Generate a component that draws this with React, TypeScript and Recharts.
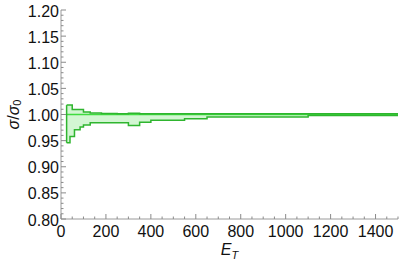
import React from "react";
import {
  ComposedChart,
  Area,
  Line,
  XAxis,
  YAxis,
  ReferenceLine,
} from "recharts";

// Bin edges (E_T) and band limits (σ/σ0)
const E_EDGES = [25, 40, 50, 60, 85, 100, 130, 180, 250, 300, 350, 400, 550, 650, 1100, 1500];
const LOWER = [0.946, 0.958, 0.958, 0.971, 0.976, 0.98, 0.984, 0.984, 0.984, 0.979, 0.985, 0.989, 0.992, 0.995, 0.998, 0.998];
const UPPER = [1.018, 1.018, 1.0096, 1.0096, 1.0096, 1.005, 1.003, 1.002, 1.0013, 1.0025, 1.0013, 1.0013, 1.0013, 1.0013, 1.0013, 1.0013];
const CENTER = 1.0;

const X_MAJOR = [0, 200, 400, 600, 800, 1000, 1200, 1400];
const Y_MAJOR = [0.8, 0.85, 0.9, 0.95, 1.0, 1.05, 1.1, 1.15, 1.2];
const X_DOMAIN = [0, 1500];
const Y_DOMAIN = [0.8, 1.2];
const X_MINOR_STEP = 50;
const Y_MINOR_STEP = 0.01;

const data = E_EDGES.map((e, i) => ({
  E: e,
  band: [LOWER[i], UPPER[i]],
  lower: LOWER[i],
  upper: UPPER[i],
  center: CENTER,
}));

const xTicks: number[] = [];
for (let v = X_DOMAIN[0]; v <= X_DOMAIN[1]; v += X_MINOR_STEP) xTicks.push(v);
const yTicks: number[] = [];
for (let k = 0; k <= Math.round((Y_DOMAIN[1] - Y_DOMAIN[0]) / Y_MINOR_STEP); k++)
  yTicks.push(Math.round((Y_DOMAIN[0] + k * Y_MINOR_STEP) * 100) / 100);

const isMajorX = (v: number) => X_MAJOR.includes(v);
const isMajorY = (v: number) => Y_MAJOR.some((m) => Math.abs(m - v) < 1e-6);

const FONT = "'Liberation Sans', Arial, Helvetica, sans-serif";
const TICK_COLOR = "#8a8a8a";
const FRAME_COLOR = "#9a9a9a";
const EDGE = "#2fb52f";
const FILL = "#d2f6d2";
const MID = "#3fdc3f";

const BottomTick = (p: any) => {
  const { x, y, payload } = p;
  const v = payload.value;
  const major = isMajorX(v);
  return (
    <g>
      <line x1={x} y1={y} x2={x} y2={y - (major ? 5 : 2.5)} stroke={TICK_COLOR} strokeWidth={1} />
      {major && (
        <text x={x} y={y + 18} textAnchor="middle" fontSize={16} fontFamily={FONT} fill="#111">
          {v}
        </text>
      )}
    </g>
  );
};

const TopTick = (p: any) => {
  const { x, y, payload } = p;
  const major = isMajorX(payload.value);
  return <line x1={x} y1={y} x2={x} y2={y + (major ? 5 : 2.5)} stroke={TICK_COLOR} strokeWidth={1} />;
};

const LeftTick = (p: any) => {
  const { x, y, payload } = p;
  const v = payload.value;
  const major = isMajorY(v);
  return (
    <g>
      <line x1={x} y1={y} x2={x + (major ? 5 : 2.5)} y2={y} stroke={TICK_COLOR} strokeWidth={1} />
      {major && (
        <text x={x - 2} y={y + 6.5} textAnchor="end" fontSize={16} fontFamily={FONT} fill="#111">
          {v.toFixed(2)}
        </text>
      )}
    </g>
  );
};

const RightTick = (p: any) => {
  const { x, y, payload } = p;
  const major = isMajorY(payload.value);
  return <line x1={x} y1={y} x2={x - (major ? 5 : 2.5)} y2={y} stroke={TICK_COLOR} strokeWidth={1} />;
};

const YLabel = (p: any) => {
  const vb = p.viewBox || {};
  const cx = (vb.x ?? 0) + 13;
  const cy = (vb.y ?? 0) + (vb.height ?? 0) / 2;
  return (
    <text
      x={cx}
      y={cy}
      transform={`rotate(-90 ${cx} ${cy})`}
      textAnchor="middle"
      dominantBaseline="central"
      fontSize={16}
      fontFamily={FONT}
      fill="#111"
    >
      <tspan fontStyle="italic">σ</tspan>
      <tspan>/</tspan>
      <tspan fontStyle="italic">σ</tspan>
      <tspan fontSize={11} dy={4}>0</tspan>
    </text>
  );
};

const XLabel = (p: any) => {
  const vb = p.viewBox || {};
  const cx = (vb.x ?? 0) + (vb.width ?? 0) / 2;
  const cy = (vb.y ?? 0) + 36;
  return (
    <text x={cx} y={cy} textAnchor="middle" fontSize={16} fontFamily={FONT} fill="#111">
      <tspan fontStyle="italic">E</tspan>
      <tspan fontStyle="italic" fontSize={11} dy={4}>T</tspan>
    </text>
  );
};

export default function App() {
  return (
    <div style={{ position: "absolute", left: 0, top: 0, width: 399, height: 269, background: "#fff" }}>
      <ComposedChart width={399} height={269} data={data} margin={{ top: 10, right: 1, left: 0, bottom: 0 }}>
        <XAxis
          dataKey="E"
          type="number"
          domain={X_DOMAIN}
          ticks={xTicks}
          interval={0}
          allowDataOverflow
          height={50}
          tickSize={0}
          tickMargin={0}
          tickLine={false}
          axisLine={{ stroke: FRAME_COLOR }}
          tick={BottomTick}
          label={{ content: XLabel }}
        />
        <XAxis
          xAxisId="top"
          orientation="top"
          dataKey="E"
          type="number"
          domain={X_DOMAIN}
          ticks={xTicks}
          interval={0}
          allowDataOverflow
          height={0}
          tickSize={0}
          tickMargin={0}
          tickLine={false}
          axisLine={{ stroke: FRAME_COLOR }}
          tick={TopTick}
        />
        <YAxis
          type="number"
          domain={Y_DOMAIN}
          ticks={yTicks}
          interval={0}
          allowDataOverflow
          width={61}
          tickSize={0}
          tickMargin={0}
          tickLine={false}
          axisLine={{ stroke: FRAME_COLOR }}
          tick={LeftTick}
          label={{ content: YLabel }}
        />
        <YAxis
          yAxisId="right"
          orientation="right"
          type="number"
          domain={Y_DOMAIN}
          ticks={yTicks}
          interval={0}
          allowDataOverflow
          width={0}
          tickSize={0}
          tickMargin={0}
          tickLine={false}
          axisLine={{ stroke: FRAME_COLOR }}
          tick={RightTick}
        />
        <Area
          type="stepAfter"
          dataKey="band"
          stroke="none"
          fill={FILL}
          fillOpacity={1}
          isAnimationActive={false}
        />
        <Line type="stepAfter" dataKey="center" stroke={MID} strokeWidth={1.5} dot={false} isAnimationActive={false} />
        <Line type="stepAfter" dataKey="lower" stroke={EDGE} strokeWidth={1.5} dot={false} isAnimationActive={false} />
        <Line type="stepAfter" dataKey="upper" stroke={EDGE} strokeWidth={1.5} dot={false} isAnimationActive={false} />
        <ReferenceLine
          segment={[
            { x: E_EDGES[0], y: LOWER[0] },
            { x: E_EDGES[0], y: UPPER[0] },
          ]}
          stroke={EDGE}
          strokeWidth={1.5}
        />
        <Line
          xAxisId="top"
          yAxisId="right"
          dataKey="center"
          stroke="none"
          dot={false}
          legendType="none"
          isAnimationActive={false}
        />
      </ComposedChart>
    </div>
  );
}
